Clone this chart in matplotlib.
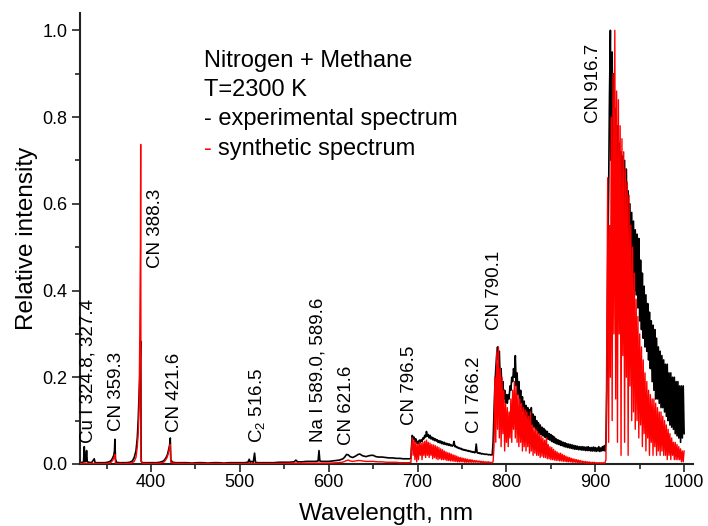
import numpy as np
import matplotlib
matplotlib.use("Agg")
import matplotlib.pyplot as plt
from matplotlib.ticker import MultipleLocator

plt.rcParams['font.family'] = ['Liberation Sans', 'DejaVu Sans']
plt.rcParams['mathtext.fontset'] = 'custom'
plt.rcParams['mathtext.rm'] = 'Liberation Sans'
plt.rcParams['mathtext.it'] = 'Liberation Sans:italic'

# ---------------- data ----------------
# experimental spectrum: sparse part (nm, relative intensity)
exp_wl_sparse = [320, 321, 322, 323, 324, 324.8, 325.5, 326.5, 327.4, 328.2, 330, 333, 336, 337,
                 340, 344, 348, 351, 353, 355, 356.5, 358, 358.8, 359.3, 359.9, 361, 364, 368,
                 372, 376, 379, 381, 383, 384.5, 385.5, 386.5, 387.3, 388.3, 388.9, 390, 394,
                 398, 402, 406, 410, 413, 415, 417, 418.5, 420, 421, 421.6, 422.2, 424, 428,
                 434, 440, 446, 452, 458, 464, 470, 476, 482, 488, 494, 500, 505, 509, 510.5,
                 511.5, 513, 515, 516.5, 517.5, 520, 526, 532, 538, 544, 550, 556, 561, 563,
                 565, 570, 575, 580, 585, 588, 589, 590, 592, 596, 600, 604, 608, 612, 616,
                 618, 620, 622, 624, 627, 630, 633, 635, 638, 642, 645, 648, 650, 653, 656,
                 660, 664, 668, 672, 676, 680, 684, 688, 691, 692.5]
exp_int_sparse = [0.003, 0.004, 0.003, 0.004, 0.005, 0.040, 0.005, 0.006, 0.031, 0.005, 0.004, 0.003, 0.012, 0.003,
                  0.003, 0.003, 0.003, 0.004, 0.005, 0.008, 0.013, 0.020, 0.030, 0.057, 0.012, 0.004, 0.003, 0.003,
                  0.003, 0.004, 0.007, 0.015, 0.030, 0.060, 0.100, 0.160, 0.200, 0.283, 0.006, 0.003, 0.003,
                  0.003, 0.003, 0.003, 0.004, 0.006, 0.009, 0.015, 0.022, 0.035, 0.045, 0.060, 0.010, 0.004, 0.003,
                  0.003, 0.003, 0.002, 0.003, 0.003, 0.002, 0.003, 0.003, 0.002, 0.003, 0.003, 0.003, 0.003, 0.004, 0.011,
                  0.004, 0.006, 0.004, 0.025, 0.004, 0.003, 0.003, 0.003, 0.003, 0.004, 0.004, 0.004, 0.005, 0.009,
                  0.005, 0.005, 0.006, 0.006, 0.006, 0.007, 0.031, 0.007, 0.006, 0.006, 0.006, 0.007, 0.008, 0.009, 0.012,
                  0.016, 0.022, 0.021, 0.017, 0.015, 0.018, 0.022, 0.023, 0.019, 0.017, 0.019, 0.020, 0.020, 0.017, 0.016,
                  0.016, 0.015, 0.014, 0.014, 0.013, 0.013, 0.012, 0.012, 0.012, 0.013]

# experimental spectrum: dense part, 1 nm step starting at 693 nm
exp_dense_start = 693
exp_int_dense = [
    # 693-785
    0.035, 0.066, 0.058, 0.062, 0.052, 0.058, 0.048, 0.052, 0.047, 0.055,
    0.050, 0.056, 0.052, 0.060, 0.058, 0.066, 0.062, 0.075, 0.064, 0.068,
    0.060, 0.066, 0.058, 0.062, 0.056, 0.060, 0.054, 0.058, 0.053, 0.056,
    0.050, 0.054, 0.049, 0.053, 0.047, 0.051, 0.046, 0.050, 0.045, 0.048,
    0.044, 0.047, 0.043, 0.046, 0.042, 0.044, 0.041, 0.043, 0.052, 0.040,
    0.041, 0.038, 0.039, 0.036, 0.037, 0.035, 0.036, 0.033, 0.034, 0.032,
    0.033, 0.031, 0.032, 0.030, 0.031, 0.029, 0.030, 0.028, 0.029, 0.027,
    0.028, 0.026, 0.027, 0.046, 0.026, 0.025, 0.026, 0.024, 0.025, 0.023,
    0.024, 0.023, 0.023, 0.022, 0.023, 0.022, 0.022, 0.021, 0.022, 0.021,
    0.021, 0.021, 0.050,
    # 786-911
    0.12, 0.18, 0.22, 0.25, 0.27, 0.24, 0.26, 0.19, 0.22, 0.16,
    0.19, 0.15, 0.17, 0.14, 0.16, 0.14, 0.16, 0.15, 0.18, 0.17,
    0.20, 0.19, 0.22, 0.20, 0.25, 0.18, 0.21, 0.16, 0.19, 0.14,
    0.17, 0.13, 0.155, 0.12, 0.145, 0.11, 0.135, 0.105, 0.13, 0.10,
    0.125, 0.095, 0.13, 0.09, 0.115, 0.085, 0.11, 0.08, 0.10, 0.075,
    0.095, 0.07, 0.09, 0.068, 0.085, 0.065, 0.082, 0.062, 0.078, 0.06,
    0.075, 0.057, 0.07, 0.055, 0.068, 0.052, 0.065, 0.05, 0.062, 0.048,
    0.058, 0.046, 0.056, 0.045, 0.054, 0.043, 0.052, 0.042, 0.05, 0.04,
    0.049, 0.039, 0.047, 0.038, 0.046, 0.037, 0.045, 0.036, 0.044, 0.035,
    0.043, 0.034, 0.042, 0.034, 0.041, 0.033, 0.040, 0.033, 0.040, 0.032,
    0.040, 0.032, 0.039, 0.031, 0.039, 0.031, 0.040, 0.031, 0.038, 0.030,
    0.038, 0.030, 0.039, 0.030, 0.038, 0.029, 0.037, 0.030, 0.040, 0.029,
    0.037, 0.030, 0.040, 0.031, 0.042, 0.030,
    # 912-1000
    0.05, 0.17, 0.45, 0.62, 0.85, 1.00, 0.70, 0.95, 0.62, 0.90,
    0.60, 0.82, 0.55, 0.78, 0.52, 0.74, 0.50, 0.72, 0.48, 0.71,
    0.46, 0.70, 0.45, 0.68, 0.44, 0.63, 0.43, 0.60, 0.42, 0.58,
    0.41, 0.56, 0.40, 0.54, 0.39, 0.53, 0.36, 0.52, 0.33, 0.47,
    0.31, 0.44, 0.29, 0.41, 0.27, 0.39, 0.26, 0.37, 0.24, 0.35,
    0.22, 0.33, 0.19, 0.32, 0.17, 0.31, 0.15, 0.29, 0.15, 0.27,
    0.14, 0.26, 0.13, 0.25, 0.13, 0.24, 0.12, 0.23, 0.11, 0.23,
    0.10, 0.21, 0.09, 0.21, 0.085, 0.20, 0.08, 0.20, 0.07, 0.19,
    0.065, 0.19, 0.06, 0.18, 0.05, 0.18, 0.06, 0.18, 0.07,
]

# synthetic spectrum: sparse part
syn_wl_sparse = [320, 330, 340, 350, 353, 355, 357, 358.5, 359.3, 360, 362, 370, 378, 381, 383,
                 384.5, 385.5, 386.5, 387.3, 388.0, 388.3, 388.7, 390, 400, 410, 414, 416, 418,
                 419.5, 420.5, 421.2, 421.6, 422.2, 425, 440, 460, 480, 500, 520, 540, 560, 580,
                 600, 610, 615, 618, 620, 622, 624, 627, 630, 633, 635, 638, 642, 646, 650, 655,
                 660, 665, 670, 675, 680, 685, 690, 692.5]
syn_int_sparse = [0.001, 0.001, 0.001, 0.001, 0.002, 0.004, 0.009, 0.016, 0.022, 0.002, 0.001, 0.001, 0.002, 0.006, 0.015,
                  0.040, 0.070, 0.130, 0.300, 0.500, 0.737, 0.010, 0.002, 0.001, 0.002, 0.004, 0.008, 0.015,
                  0.025, 0.035, 0.040, 0.045, 0.004, 0.002, 0.001, 0.001, 0.001, 0.001, 0.001, 0.001, 0.002, 0.002,
                  0.002, 0.003, 0.004, 0.006, 0.008, 0.009, 0.007, 0.006, 0.007, 0.008, 0.008, 0.007, 0.006, 0.006, 0.006, 0.005,
                  0.005, 0.004, 0.004, 0.004, 0.003, 0.003, 0.003, 0.004]

# synthetic spectrum: dense part, 1 nm step starting at 693 nm
syn_dense_start = 693
syn_int_dense = [
    # 693-769
    0.03, 0.06, 0.02, 0.055, 0.01, 0.05, 0.005, 0.045, 0.01, 0.05,
    0.02, 0.048, 0.01, 0.05, 0.02, 0.052, 0.015, 0.055, 0.02, 0.05,
    0.015, 0.048, 0.02, 0.045, 0.012, 0.044, 0.015, 0.042, 0.012, 0.04,
    0.01, 0.038, 0.012, 0.035, 0.01, 0.033, 0.01, 0.03, 0.01, 0.028,
    0.008, 0.026, 0.008, 0.025, 0.007, 0.023, 0.007, 0.021, 0.006, 0.02,
    0.006, 0.018, 0.005, 0.016, 0.005, 0.015, 0.005, 0.014, 0.005, 0.013,
    0.004, 0.012, 0.004, 0.011, 0.004, 0.01, 0.004, 0.01, 0.004, 0.009,
    0.004, 0.008, 0.004, 0.008, 0.004, 0.007, 0.004,
    # 770-785
    0.007, 0.003, 0.006, 0.003, 0.006, 0.003, 0.005, 0.003, 0.005, 0.003,
    0.005, 0.003, 0.004, 0.003, 0.004, 0.005,
    # 786-911
    0.04, 0.20, 0.05, 0.26, 0.08, 0.27, 0.06, 0.22, 0.04, 0.20,
    0.07, 0.17, 0.03, 0.14, 0.05, 0.13, 0.04, 0.12, 0.06, 0.15,
    0.05, 0.17, 0.08, 0.19, 0.06, 0.18, 0.05, 0.16, 0.04, 0.15,
    0.05, 0.14, 0.03, 0.13, 0.04, 0.125, 0.03, 0.12, 0.04, 0.11,
    0.025, 0.12, 0.03, 0.09, 0.02, 0.085, 0.025, 0.08, 0.02, 0.075,
    0.02, 0.07, 0.015, 0.065, 0.018, 0.06, 0.015, 0.055, 0.015, 0.06,
    0.012, 0.045, 0.012, 0.04, 0.01, 0.038, 0.01, 0.034, 0.009, 0.03,
    0.008, 0.028, 0.008, 0.025, 0.007, 0.025, 0.007, 0.022, 0.006, 0.02,
    0.006, 0.018, 0.005, 0.016, 0.005, 0.015, 0.005, 0.013, 0.004, 0.012,
    0.004, 0.011, 0.004, 0.01, 0.003, 0.009, 0.003, 0.008, 0.003, 0.007,
    0.003, 0.006, 0.002, 0.006, 0.002, 0.005, 0.002, 0.005, 0.002, 0.004,
    0.002, 0.004, 0.002, 0.004, 0.002, 0.003, 0.002, 0.003, 0.002, 0.003,
    0.002, 0.003, 0.002, 0.003, 0.002, 0.003,
    # 912-1000
    0.01, 0.30, 0.66, 0.05, 0.55, 0.20, 0.80, 0.10, 0.90, 0.30,
    1.00, 0.15, 0.86, 0.05, 0.84, 0.30, 0.78, 0.02, 0.75, 0.25,
    0.72, 0.05, 0.68, 0.20, 0.65, 0.02, 0.62, 0.18, 0.55, 0.10,
    0.50, 0.12, 0.44, 0.08, 0.38, 0.10, 0.34, 0.06, 0.30, 0.09,
    0.27, 0.04, 0.24, 0.07, 0.21, 0.03, 0.19, 0.06, 0.17, 0.02,
    0.16, 0.05, 0.15, 0.02, 0.15, 0.04, 0.14, 0.02, 0.13, 0.03,
    0.12, 0.02, 0.12, 0.03, 0.11, 0.02, 0.10, 0.02, 0.09, 0.01,
    0.08, 0.02, 0.07, 0.01, 0.06, 0.02, 0.05, 0.01, 0.05, 0.01,
    0.045, 0.01, 0.04, 0.01, 0.035, 0.005, 0.03, 0.005, 0.03,
]

# peak annotations
peak_labels = ["Cu I 324.8, 327.4", "CN 359.3", "CN 388.3", "CN 421.6", "C$_2$ 516.5",
               "Na I 589.0, 589.6", "CN 621.6", "CN 796.5", "C I 766.2", "CN 790.1", "CN 916.7"]

info_lines = ["Nitrogen + Methane", "T=2300 K", "- experimental spectrum", "synthetic spectrum"]

# ---------------- build series ----------------
exp_wl = np.concatenate([exp_wl_sparse, exp_dense_start + np.arange(len(exp_int_dense))])
exp_int = np.concatenate([exp_int_sparse, exp_int_dense])
syn_wl = np.concatenate([syn_wl_sparse, syn_dense_start + np.arange(len(syn_int_dense))])
syn_int = np.concatenate([syn_int_sparse, syn_int_dense])

# ---------------- figure ----------------
W, H = 708, 526
fig = plt.figure(figsize=(W / 100, H / 100), dpi=100)
ax = fig.add_axes([80 / W, 1 - 464 / H, (693 - 80) / W, (464 - 13) / H])

ax.plot(exp_wl, exp_int, color='black', lw=1.2, zorder=2)
ax.plot(syn_wl, syn_int, color='#ff0000', lw=1.0, zorder=3)

ax.set_xlim(320, 1010)
ax.set_ylim(0, 1.04)
ax.xaxis.set_major_locator(MultipleLocator(100))
ax.xaxis.set_minor_locator(MultipleLocator(50))
ax.yaxis.set_major_locator(MultipleLocator(0.2))
ax.yaxis.set_minor_locator(MultipleLocator(0.1))
ax.yaxis.set_major_formatter(matplotlib.ticker.FormatStrFormatter('%.1f'))

for s in ['top', 'right']:
    ax.spines[s].set_visible(False)
for s in ['left', 'bottom']:
    ax.spines[s].set_linewidth(1.5)
    ax.spines[s].set_color('#222222')

ax.tick_params(which='major', direction='out', length=6, width=1.2, labelsize=13, color='#222222')
ax.tick_params(which='minor', direction='out', length=3.5, width=1.2, color='#222222')
ax.tick_params(axis='x', which='major', pad=1)
ax.tick_params(axis='y', which='major', pad=3)

ax.set_xlabel("Wavelength, nm", fontsize=17.5, labelpad=9)
ax.set_ylabel("Relative intensity", fontsize=17.5, labelpad=3)

label_pos = [(328.8, 0.048), (361.4, 0.075), (404.5, 0.451), (425.9, 0.074), (519.5, 0.048),
             (588.2, 0.051), (620.1, 0.044), (691.3, 0.090), (764.5, 0.071), (787.0, 0.309),
             (897.8, 0.786)]
for txt, (lx, ly) in zip(peak_labels, label_pos):
    ax.text(lx, ly, txt, rotation=90, ha='center', va='bottom', fontsize=13.5)

# info block (figure pixel coordinates)
x0 = 204 / W
baselines = [66.7, 96.0, 125.5, 155.0]
for txt, yb in zip(info_lines[:3], baselines[:3]):
    fig.text(x0, 1 - yb / H, txt, fontsize=17, va='baseline', ha='left')
dash = fig.text(x0, 1 - baselines[3] / H, "-", fontsize=17, va='baseline', ha='left', color='#ff0000')
fig.canvas.draw()
r = fig.canvas.get_renderer()
dash_right = dash.get_window_extent(r).x1
space_w = fig.text(0, 0, " ", fontsize=17).get_window_extent(r).width
fig.texts[-1].remove()
fig.text((dash_right + space_w) / W, 1 - baselines[3] / H, info_lines[3], fontsize=17,
         va='baseline', ha='left')

fig.savefig("out.png", dpi=100)
